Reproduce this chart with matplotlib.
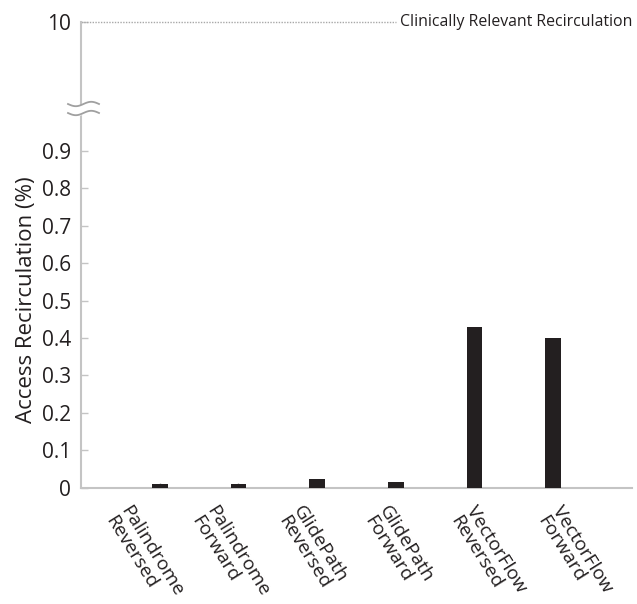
import numpy as np
import matplotlib
matplotlib.use("Agg")
import matplotlib.pyplot as plt
from matplotlib.transforms import ScaledTranslation, blended_transform_factory

plt.rcParams['font.family'] = ['Open Sans', 'DejaVu Sans']

categories = ["Palindrome\nReversed", "Palindrome\nForward", "GlidePath\nReversed",
              "GlidePath\nForward", "VectorFlow\nReversed", "VectorFlow\nForward"]
values = [0.009, 0.009, 0.024, 0.014, 0.429, 0.400]
errors = [0.004, 0.004, 0.0, 0.0, 0.0, 0.0]
ytick_vals = [0, 0.1, 0.2, 0.3, 0.4, 0.5, 0.6, 0.7, 0.8, 0.9, 10]
ytick_labels = ["0", "0.1", "0.2", "0.3", "0.4", "0.5", "0.6", "0.7", "0.8", "0.9", "10"]
threshold = 10
threshold_label = "Clinically Relevant Recirculation"

TXT = '#231f20'
GRAY = '#c4c4c4'
K = 0.02731  # compression above the break

def fwd(y):
    y = np.asarray(y, dtype=float)
    return np.where(y <= 1, y, 1 + (y - 1) * K)

def inv(y):
    y = np.asarray(y, dtype=float)
    return np.where(y <= 1, y, 1 + (y - 1) / K)

W, H = 637, 604
AXW = 632 - 81
fig = plt.figure(figsize=(W / 100, H / 100), dpi=100)
ax = fig.add_axes([81 / W, (H - 487.5) / H, AXW / W, (487.5 - 21.7) / H])
ax.set_yscale('function', functions=(fwd, inv))

x = np.arange(len(categories))
ax.bar(x, values, width=0.2, color=TXT, zorder=3)
ax.errorbar(x, values, yerr=[np.zeros(len(errors)), errors], fmt='none',
            ecolor='#9a9a9a', elinewidth=1, capsize=0, zorder=2)

ax.set_xlim(-1, 6)
ax.set_ylim(0, 10)
ax.set_yticks(ytick_vals)
ax.set_yticklabels(ytick_labels)
ax.minorticks_off()
ax.tick_params(axis='y', direction='in', length=5, width=1, color=GRAY,
               labelsize=15, labelcolor=TXT, pad=7)
ax.tick_params(axis='x', bottom=False, labelbottom=False)
for s in ['top', 'right']:
    ax.spines[s].set_visible(False)
for s in ['left', 'bottom']:
    ax.spines[s].set_color(GRAY)
    ax.spines[s].set_linewidth(1.5)

# threshold line
ax.axhline(threshold, xmin=0, xmax=(396 - 81) / AXW, color='#a8a8a8',
           linestyle=(0, (1, 1)), linewidth=1, clip_on=False)
ax.text((400 - 81) / AXW, threshold, threshold_label,
        transform=blended_transform_factory(ax.transAxes, ax.transData),
        ha='left', va='center', fontsize=11.4, color=TXT)

# category labels (spaced slightly wider than the bars, as in the original)
lab_start = (132 - 81) / AXW
lab_step = 86.4 / AXW
for i, lab in enumerate(categories):
    tr = ax.transAxes + ScaledTranslation(0, -0.155, fig.dpi_scale_trans)
    ax.text(lab_start + i * lab_step, 0, lab, transform=tr, rotation=-58,
            rotation_mode='anchor', ha='left', va='top', fontsize=13.8,
            color=TXT, linespacing=1.0)

# y label
fig.text(27 / W, (H - 300) / H, "Access Recirculation (%)", rotation=90,
         ha='center', va='center', fontsize=16, color=TXT)

# axis break marks
bt = ax.transAxes
t = np.linspace(0, 1, 50)
xs = -13 / AXW + t * 31 / AXW
amp = 2.2 / 465.8
y1 = (487.5 - 104) / 465.8
y2 = (487.5 - 113) / 465.8
wave = -amp * np.sin(2 * np.pi * t)
ax.fill_between(xs, y2 + wave, y1 + wave, color='white', transform=bt,
                clip_on=False, zorder=5)
ax.plot(xs, y1 + wave, color='#a0a0a0', lw=1.3, transform=bt, clip_on=False, zorder=6)
ax.plot(xs, y2 + wave, color='#a0a0a0', lw=1.3, transform=bt, clip_on=False, zorder=6)

fig.savefig("out.png", dpi=100)
